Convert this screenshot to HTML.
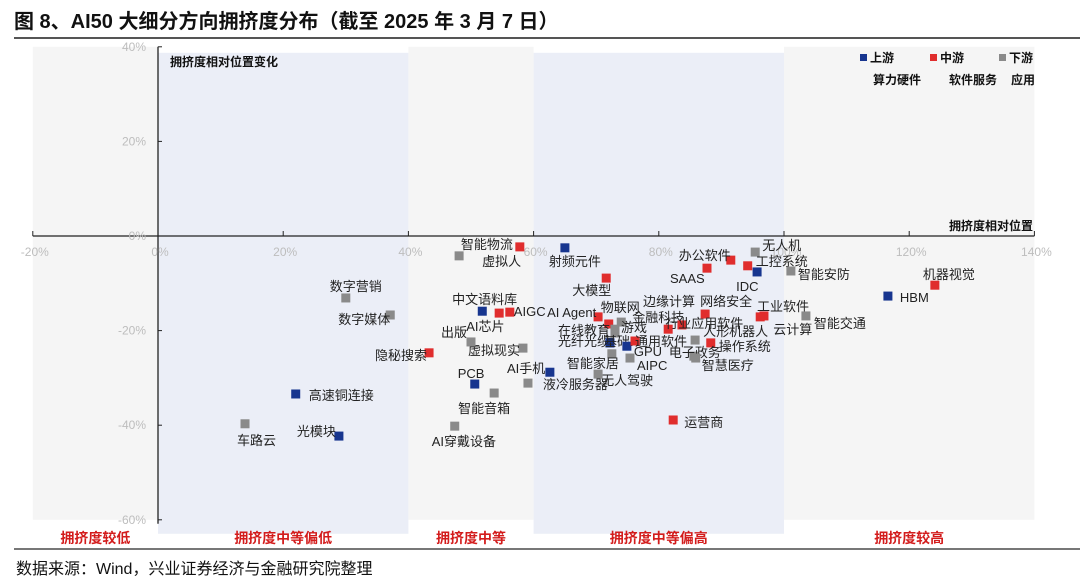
<!DOCTYPE html>
<html><head><meta charset="utf-8">
<style>
body{margin:0;width:1080px;height:585px;background:#fff;overflow:hidden;font-family:"Liberation Sans","Noto Sans CJK SC",sans-serif;}
#title{position:absolute;left:14px;top:5px;font-size:20px;font-weight:bold;color:#111;}
#tl{position:absolute;left:14px;top:37px;width:1066px;height:2px;background:#555;}
#bl{position:absolute;left:14px;top:548px;width:1066px;height:2px;background:#777;}
#src{position:absolute;left:16px;top:555px;font-size:16px;color:#111;}
svg{position:absolute;left:0;top:0;}
</style></head><body>
<div id="title">图 8、AI50 大细分方向拥挤度分布（截至 2025 年 3 月 7 日）</div>
<div id="tl"></div>
<svg id="chart" width="1080" height="585"></svg>
<div id="bl"></div>
<div id="src">数据来源：Wind，兴业证券经济与金融研究院整理</div>
<script>
const names=["智能物流","虚拟人","射频元件","大模型","办公软件","SAAS","无人机","工控系统","IDC","智能安防","机器视觉","HBM","数字营销","数字媒体","AI芯片","中文语料库","AIGC","AI Agent","物联网","金融科技","游戏","在线教育","光纤光缆","基础IT","GPU","通用软件","智能家居","AIPC","无人驾驶","液冷服务器","AI手机","智能音箱","PCB","虚拟现实","出版","隐秘搜索","边缘计算","网络安全","行业应用软件","人形机器人","操作系统","电子政务","智慧医疗","工业软件","云计算","智能交通","高速铜连接","光模块","车路云","AI穿戴设备","运营商"];
const xVals=[57.8,48.1,65.0,71.6,91.5,87.7,95.4,94.2,95.7,101.1,124.1,116.6,30.0,37.1,51.8,54.5,56.2,70.3,72.0,74.0,73.0,73.0,72.2,72.2,74.9,76.2,72.5,75.4,70.3,62.6,59.1,53.7,50.6,58.3,50.0,43.3,83.7,87.4,81.5,85.8,88.3,85.6,85.9,96.8,96.2,103.5,22.0,28.9,13.9,47.4,82.3];
const yVals=[-2.3,-4.2,-2.5,-8.9,-5.1,-6.8,-3.4,-6.3,-7.6,-7.4,-10.4,-12.7,-13.1,-16.7,-15.9,-16.3,-16.1,-17.1,-18.6,-18.2,-19.7,-20.5,-22.6,-22.6,-23.3,-22.2,-24.9,-25.8,-29.2,-28.8,-31.1,-33.2,-31.3,-23.7,-22.4,-24.7,-18.8,-16.5,-19.7,-22.0,-22.6,-25.4,-25.8,-16.9,-17.1,-16.9,-33.4,-42.3,-39.7,-40.2,-38.9];
const cats=["m","d","u","m","m","m","d","m","u","d","m","u","d","d","u","m","m","m","m","d","d","d","u","u","u","m","d","d","d","u","d","d","u","d","d","m","m","m","m","d","m","d","d","m","m","d","u","u","d","d","m"];
const labelDx=[-59,23,-16,-34,-52,-37,7,8,-21,7,-12,12,-16,-52,-16,-47,4,-51,-8,11,6,-57,-52,-6,7,0,-45,7,3,-7,-21,-36,-17,-55,-30,-54,-39,-5,-3,8,8,-25,6,-7,13,8,13,-42,-8,-23,11];
const labelDy=[2,10,18,17,0,15,-2,0,19,8,-6,6,-7,9,20,-9,4,0,-12,0,3,2,3,3,10,5,14,12,11,17,-10,20,-6,7,-5,7,-19,-8,-1,-4,8,1,12,-5,17,12,6,0,21,20,7];
const xTicks=[-20,0,20,40,60,80,100,120,140];
const yTicks=[40,20,0,-20,-40,-60];
const bands=[[-20,0,"#f5f5f5"],[0,40,"#ebeef7"],[40,60,"#f5f5f5"],[60,100,"#ebeef7"],[100,140,"#f5f5f5"]];
const bandLabels=["拥挤度较低","拥挤度中等偏低","拥挤度中等","拥挤度中等偏高","拥挤度较高"];
const colors={u:"#17358f",m:"#e02d2d",d:"#8a8a8a"};
const X=v=>158+(v)*6.26, Y=v=>236-(v)*4.73;
const svg=document.getElementById('chart');const NS="http://www.w3.org/2000/svg";
function mk(t,a,txt){const e=document.createElementNS(NS,t);for(const k in a)e.setAttribute(k,a[k]);if(txt!==undefined)e.textContent=txt;svg.appendChild(e);return e;}
bands.forEach((b,i)=>{const r=mk('rect',{x:X(b[0]),y:Y(40)+(i%2?6:0),width:X(b[1])-X(b[0]),height:Y(-60)-Y(40)+(i%2?2:-6)+6,fill:b[2]});


const t=mk('text',{x:(X(b[0])+X(b[1]))/2,y:543,'text-anchor':'middle','font-size':14,'font-weight':'bold',fill:'#d31c1c'},bandLabels[i]);

});
let l=mk('line',{x1:X(-20),x2:X(140),y1:Y(0),y2:Y(0),stroke:'#222','stroke-width':1.3});


l=mk('line',{x1:X(0),x2:X(0),y1:Y(40),y2:Y(-60)+4,stroke:'#222','stroke-width':1.3});


xTicks.forEach(v=>{mk('line',{x1:X(v),x2:X(v),y1:Y(0)-5,y2:Y(0),stroke:'#222'});
const t=mk('text',{x:X(v)+2,y:Y(0)+20,'text-anchor':'middle','font-size':12,fill:'#bdbdbd'},v+'%');

});
yTicks.forEach(v=>{mk('line',{x1:X(0),x2:X(0)+4,y1:Y(v),y2:Y(v),stroke:'#222'});
const t=mk('text',{x:X(0)-12,y:Y(v)+4,'text-anchor':'end','font-size':12,fill:'#bdbdbd'},v+'%');

});
let t=mk('text',{x:170,y:66,'font-size':12,'font-weight':'bold',fill:'#111'},'拥挤度相对位置变化');


t=mk('text',{x:1033,y:230,'text-anchor':'end','font-size':12,'font-weight':'bold',fill:'#111'},'拥挤度相对位置');


names.forEach((n,i)=>{const cx=X(xVals[i]),cy=Y(yVals[i]);
const r=mk('rect',{x:cx-4.5,y:cy-4.5,width:9,height:9,fill:colors[cats[i]]});


const tx=mk('text',{x:cx+labelDx[i],y:cy+labelDy[i],'font-size':13,fill:'#222'},n);

});
const leg=[["上游","算力硬件","u",860,921],["中游","软件服务","m",930,997],["下游","应用","d",999,1035]];
leg.forEach(g=>{const r=mk('rect',{x:g[3],y:54,width:7,height:7,fill:colors[g[2]]});


const a=mk('text',{x:g[3]+10,y:62,'font-size':12,'font-weight':'bold',fill:'#111'},g[0]);


const b=mk('text',{x:g[4],y:84,'text-anchor':'end','font-size':12,'font-weight':'bold',fill:'#111'},g[1]);

});
</script>
</body></html>
